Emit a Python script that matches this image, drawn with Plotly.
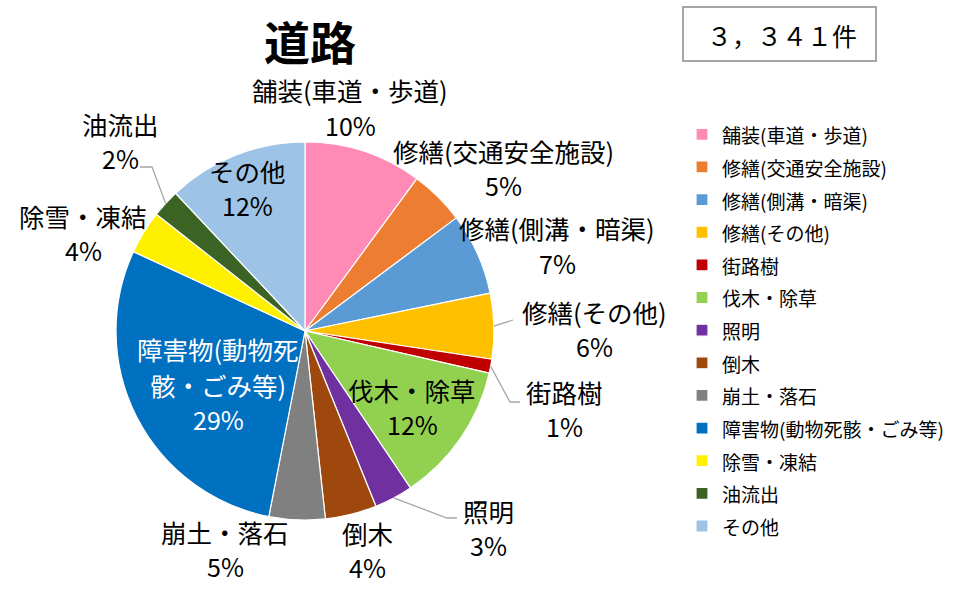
import math
import plotly.graph_objects as go

# ---------------- data ----------------
categories = ["舗装(車道・歩道)", "修繕(交通安全施設)", "修繕(側溝・暗渠)", "修繕(その他)",
              "街路樹", "伐木・除草", "照明", "倒木", "崩土・落石",
              "障害物(動物死骸・ごみ等)", "除雪・凍結", "油流出", "その他"]
counts = [337, 157, 234, 187, 40, 401, 110, 147, 160, 963, 124, 80, 401]
chart_title = "道路"
total_text = "３，３４１件"
# how each slice's name is broken into lines in its data label
label_lines = [["舗装(車道・歩道)"], ["修繕(交通安全施設)"], ["修繕(側溝・暗渠)"], ["修繕(その他)"],
               ["街路樹"], ["伐木・除草"], ["照明"], ["倒木"], ["崩土・落石"],
               ["障害物(動物死", "骸・ごみ等)"], ["除雪・凍結"], ["油流出"], ["その他"]]

# ---------------- style ----------------
colors = ["#FF8AB5", "#ED7D31", "#5B9BD5", "#FFC000", "#C00000", "#92D050", "#7030A0",
          "#9E480E", "#808080", "#0070C0", "#FFF000", "#3B6323", "#9DC3E6"]
W, H = 954, 592
CX, CY, R = 305, 331, 189          # pie centre / radius in pixels
FONT = "Noto Sans CJK JP, Noto Sans, sans-serif"
PCT_FONT = "Liberation Sans Narrow, Arial Narrow, Noto Sans CJK JP, sans-serif"
# label block placement (centre x, first-line y) in pixels, and text colour
label_pos = [(350, 90), (503, 150), (557, 228), (594, 311), (564, 391), (412, 389),
             (488, 510), (367, 532), (225, 531), (218, 349), (83, 215), (121, 123), (247, 170)]
label_color = ["#000"] * 13
label_color[9] = "#FFFFFF"
LINE_GAP = 35
NAME_SIZE, PCT_SIZE = 25.5, 25
# leader line waypoints (pixel) for labels that have one; first point = slice edge
leaders = {
    3: [(513, 320)],
    4: [(510, 402), (520, 402)],
    6: [(447, 518), (457, 518)],
    11: [(152, 167), (140, 167)],
}


def px(x):
    return x / W


def py(y):
    return 1 - y / H


total = sum(counts)
pcts = [f"{round(c / total * 100)}%" for c in counts]
legend_names = [f'<span style="font-size:19px">{c}</span>' for c in categories]

fig = go.Figure(go.Pie(
    labels=legend_names, values=counts, sort=False, direction="clockwise", rotation=0,
    marker=dict(colors=colors, line=dict(color="white", width=1.2)),
    textinfo="none", hoverinfo="label+value+percent",
    domain=dict(x=[px(CX - R), px(CX + R)], y=[py(CY + R), py(CY - R)]),
))

annotations = []
for i, (lines, (x, y)) in enumerate(zip(label_lines, label_pos)):
    allines = lines + [pcts[i]]
    for k, t in enumerate(allines):
        is_pct = k == len(allines) - 1
        annotations.append(dict(
            x=px(x), y=py(y + k * LINE_GAP), xref="paper", yref="paper",
            text=t, showarrow=False, xanchor="center", yanchor="middle",
            font=dict(family=PCT_FONT if is_pct else FONT,
                      size=PCT_SIZE if is_pct else NAME_SIZE, color=label_color[i])))

annotations.append(dict(x=px(310), y=py(40), xref="paper", yref="paper", text="<b>" + chart_title + "</b>",
                        showarrow=False, xanchor="center", yanchor="middle",
                        font=dict(family=FONT, size=46, color="#000")))
annotations.append(dict(x=px(782), y=py(35), xref="paper", yref="paper", text=total_text,
                        showarrow=False, xanchor="center", yanchor="middle",
                        font=dict(family=FONT, size=25, color="#000")))

shapes = [dict(type="rect", xref="paper", yref="paper", x0=px(683), x1=px(876), y0=py(61), y1=py(7),
               line=dict(color="#A6A6A6", width=2), fillcolor="white", layer="below")]

# leader lines start at the slice's outer edge (mid-angle from data)
cum = 0
mids = []
for c in counts:
    mids.append((cum + c / 2) / total * 2 * math.pi)
    cum += c
for i, pts in leaders.items():
    a = mids[i]
    start = (CX + R * math.sin(a), CY - R * math.cos(a))
    path_pts = [start] + pts
    path = "M " + " L ".join(f"{px(x):.5f},{py(y):.5f}" for x, y in path_pts)
    shapes.append(dict(type="path", xref="paper", yref="paper", path=path,
                       line=dict(color="#A6A6A6", width=1.3)))

fig.update_layout(
    width=W, height=H, margin=dict(l=0, r=0, t=0, b=0, autoexpand=False),
    paper_bgcolor="white", plot_bgcolor="white",
    annotations=annotations, shapes=shapes,
    showlegend=True,
    legend=dict(x=px(682), y=py(113), xanchor="left", yanchor="top",
                font=dict(family=FONT, size=22.8, color="#000"),
                itemwidth=30, tracegroupgap=0, bgcolor="rgba(0,0,0,0)"),
)

fig.write_html("out.html")
